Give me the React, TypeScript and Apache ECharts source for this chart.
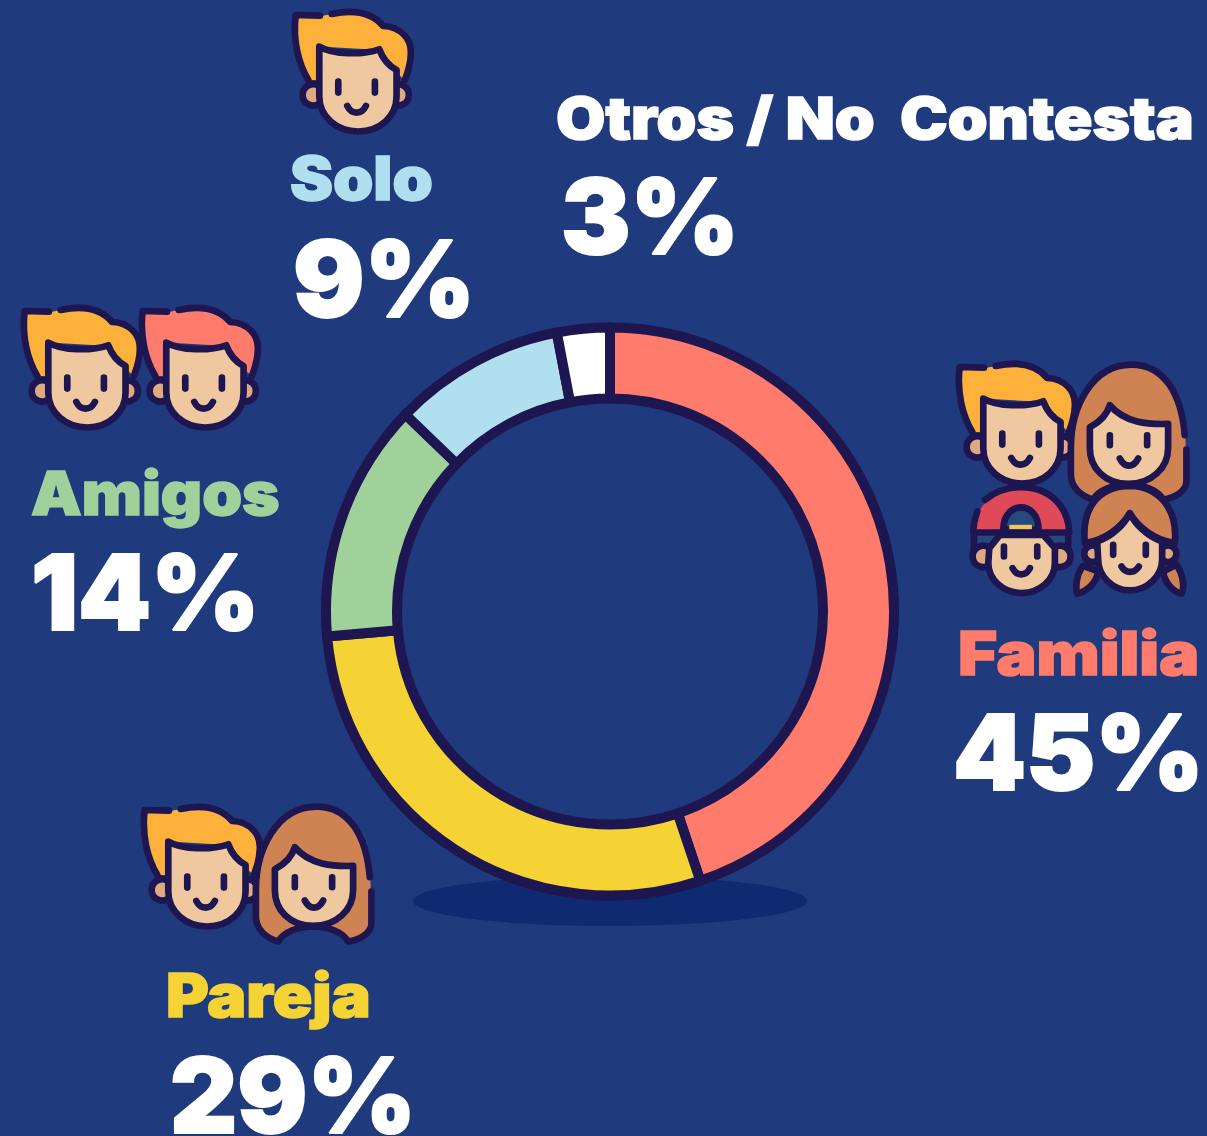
import React, { useEffect, useRef } from "react";
import * as echarts from "echarts";

const categories = ["Familia", "Pareja", "Amigos", "Solo", "Otros / No  Contesta"];
const percentLabels = ["45%", "29%", "14%", "9%", "3%"];
// arc sizes as measured on the ring (the printed labels are rounded)
const sliceValues = [44.85, 28.75, 13.6, 9.8, 3.0];
const sliceColors = ["#ff7b6b", "#f5d334", "#a1d19b", "#b0e0ef", "#ffffff"];
const titleColors = ["#ff7b6b", "#f5d334", "#a1d19b", "#b0e0ef", "#ffffff"];

const titlePos = [[958, 653], [166, 995], [31, 493], [290, 178], [556, 118]];
const titleStretch = [1.117, 1.09, 1.064, 1.076, 1.1];
const pctPos = [[953, 752], [170, 1095], [31, 592], [293, 278], [561, 216]];
const pctSize = [104, 104, 104, 106, 104];

const INK = "#1e1650";
const SKIN = "#f0c8a0";
const EAR = "#dfaa81";
const BROWN = "#cf8352";
const BG = "#203a7e";

const shapes: Record<string, string> = {
  mHairFill: "M45 48 L125 48 L155 42 C200 32 265 25 310 78 C360 80 395 115 393 160 C392 200 380 225 375 240 L345 215 L300 150 L118 140 L110 240 L85 240 C55 190 40 120 45 48 Z",
  mHairLine: "M120 47 L47 45 C38 120 55 190 85 240 M155 42 C200 32 265 25 310 78 C360 80 395 115 393 160 C392 200 380 225 375 240",
  mFace: "M118 140 C160 165 250 165 298 148 C310 180 330 200 350 210 L350 290 C350 350 300 395 235 395 C170 395 118 350 118 290 Z",
  mEyes: "M175 245 L175 278 M285 245 L285 278",
  mMouth: "M202 318 C215 345 245 345 258 318",
  wHairFill: "M560 50 C660 50 710 140 722 265 L725 400 C725 430 690 450 655 455 C620 395 500 395 445 455 C410 445 378 420 378 380 L378 300 C378 180 440 50 560 50 Z",
  wHairLine: "M720 262 C710 140 660 50 560 50 C440 50 378 180 378 300 L378 380 C378 420 410 445 445 455 C480 395 620 395 655 455 C690 450 725 430 725 400 L725 305",
  wFace: "M495 172 C540 225 610 230 670 228 L670 300 C670 360 620 408 550 408 C480 408 435 360 435 300 L435 238 C460 225 485 205 495 172 Z",
  wEyes: "M495 262 L495 292 M607 262 L607 292",
  wMouth: "M525 332 C540 360 565 360 580 332",
  capFill: "M70 548 C75 470 130 415 213 412 C300 412 355 470 358 548 Z",
  capLine: "M105 450 C135 425 170 412 213 412 C300 412 355 470 358 548 M82 485 C75 505 70 525 70 548 L358 548 M72 548 L72 610 M355 548 L355 610",
  capBand: "M80 555 L350 555 L350 585 L80 585 Z",
  capHole: "M160 540 C160 450 266 450 266 540 Z",
  capYellow: "M178 525 L246 525 L246 538 L178 538 Z",
  bFace: "M118 595 L150 555 L280 555 L315 595 L315 640 C315 690 270 730 215 730 C160 730 115 690 115 640 Z",
  bEyes: "M162 590 L162 620 M262 590 L262 620",
  bMouth: "M188 655 C200 680 228 680 240 655",
  gHair: "M405 580 C395 480 440 410 540 408 C630 410 685 480 675 580 C610 570 565 530 540 490 C515 530 470 570 405 580 Z",
  gFace: "M442 575 C490 560 525 520 540 490 C555 520 590 560 637 575 L637 630 C637 680 590 722 540 722 C490 722 445 680 445 630 Z",
  gEyes: "M490 585 L490 615 M588 585 L588 615",
  gMouth: "M515 650 C527 672 553 672 567 650",
  gTailL: "M400 648 C375 680 378 720 382 732 C410 725 440 700 445 665 Z",
  gTailR: "M680 645 C705 680 702 720 695 732 C670 725 645 700 640 665 Z",
};
Object.keys(shapes).forEach((k) => {
  echarts.graphic.registerShape(k, echarts.graphic.extendPath(shapes[k] as any, {} as any));
});

const LW = 20;
const filled = (type: string, fill: string) => ({
  type, silent: true,
  style: { fill, stroke: INK, lineWidth: LW, lineJoin: "round", lineCap: "round" },
});
const flat = (type: string, fill: string) => ({ type, silent: true, style: { fill, stroke: null, lineWidth: 0 } });
const line = (type: string) => ({
  type, silent: true,
  style: { fill: "none", stroke: INK, lineWidth: LW, lineCap: "round", lineJoin: "round" },
});
const ear = (cx: number, cy: number, r: number) => ({
  type: "circle", silent: true, shape: { cx, cy, r },
  style: { fill: EAR, stroke: INK, lineWidth: LW },
});

const group = (x: number, y: number, children: any[]) => ({
  type: "group", x, y, scaleX: 1 / 3, scaleY: 1 / 3, z: 10, children,
});

const man = (x: number, y: number, hair: string) =>
  group(x, y, [
    flat("mHairFill", hair),
    line("mHairLine"),
    ear(100, 285, 32),
    ear(355, 285, 32),
    filled("mFace", SKIN),
    line("mEyes"),
    line("mMouth"),
  ]);

const woman = (x: number, y: number) =>
  group(x, y, [
    flat("wHairFill", BROWN),
    line("wHairLine"),
    filled("wFace", SKIN),
    line("wEyes"),
    line("wMouth"),
  ]);

const boyAndGirl = (x: number, y: number) =>
  group(x, y, [
    flat("capBand", "#26497f"),
    flat("capFill", "#e04a58"),
    line("capLine"),
    filled("capHole", "#26497f"),
    flat("capYellow", "#eec75e"),
    ear(100, 620, 32),
    ear(330, 620, 32),
    filled("bFace", SKIN),
    line("bEyes"),
    line("bMouth"),
    filled("gTailL", BROWN),
    filled("gTailR", BROWN),
    ear(428, 612, 25),
    ear(655, 612, 25),
    filled("gHair", BROWN),
    filled("gFace", SKIN),
    line("gEyes"),
    line("gMouth"),
  ]);

const FONT = "Inter, 'Noto Sans', sans-serif";
const text = (t: string, p: number[], size: number, fill: string, bold: number, stretch = 1) => ({
  type: "text", x: p[0], y: p[1], z: 12, silent: true, scaleX: stretch,
  style: {
    text: t, fill, fontFamily: FONT, fontWeight: 900, fontSize: size,
    align: "left", verticalAlign: "middle", stroke: fill, lineWidth: bold,
  },
});

export default function App() {
  const ref = useRef<HTMLDivElement>(null);
  useEffect(() => {
    document.body.style.margin = "0";
    const chart = echarts.init(ref.current!, undefined, { renderer: "svg" });
    chart.setOption({
      animation: false,
      backgroundColor: BG,
      series: [
        {
          type: "pie",
          center: [610, 611.5],
          radius: [213, 284],
          startAngle: 90,
          clockwise: true,
          silent: true,
          z: 5,
          label: { show: false },
          labelLine: { show: false },
          itemStyle: { borderColor: INK, borderWidth: 10 },
          data: categories.map((name, i) => ({
            name,
            value: sliceValues[i],
            itemStyle: { color: sliceColors[i] },
          })),
        },
      ],
      graphic: { elements: [
        {
          type: "ellipse", z: 0, silent: true,
          shape: { cx: 610, cy: 901, rx: 197, ry: 25 },
          style: { fill: "#0f2a70" },
        },
        man(280, 0, "#fdb03a"),
        man(9, 296, "#fdb03a"),
        man(127, 296, "#ff7b6b"),
        man(129, 795, "#fdb03a"),
        woman(130, 790),
        man(944, 352, "#fdb03a"),
        woman(945, 348),
        boyAndGirl(950, 350),
        ...categories.map((c, i) => text(c, titlePos[i], i === 4 ? 58 : 60, titleColors[i], 1.5, titleStretch[i])),
        ...percentLabels.map((c, i) => text(c, pctPos[i], pctSize[i], "#ffffff", 2)),
      ] },
    });
    return () => chart.dispose();
  }, []);
  return <div ref={ref} style={{ width: 1207, height: 1136 }} />;
}
